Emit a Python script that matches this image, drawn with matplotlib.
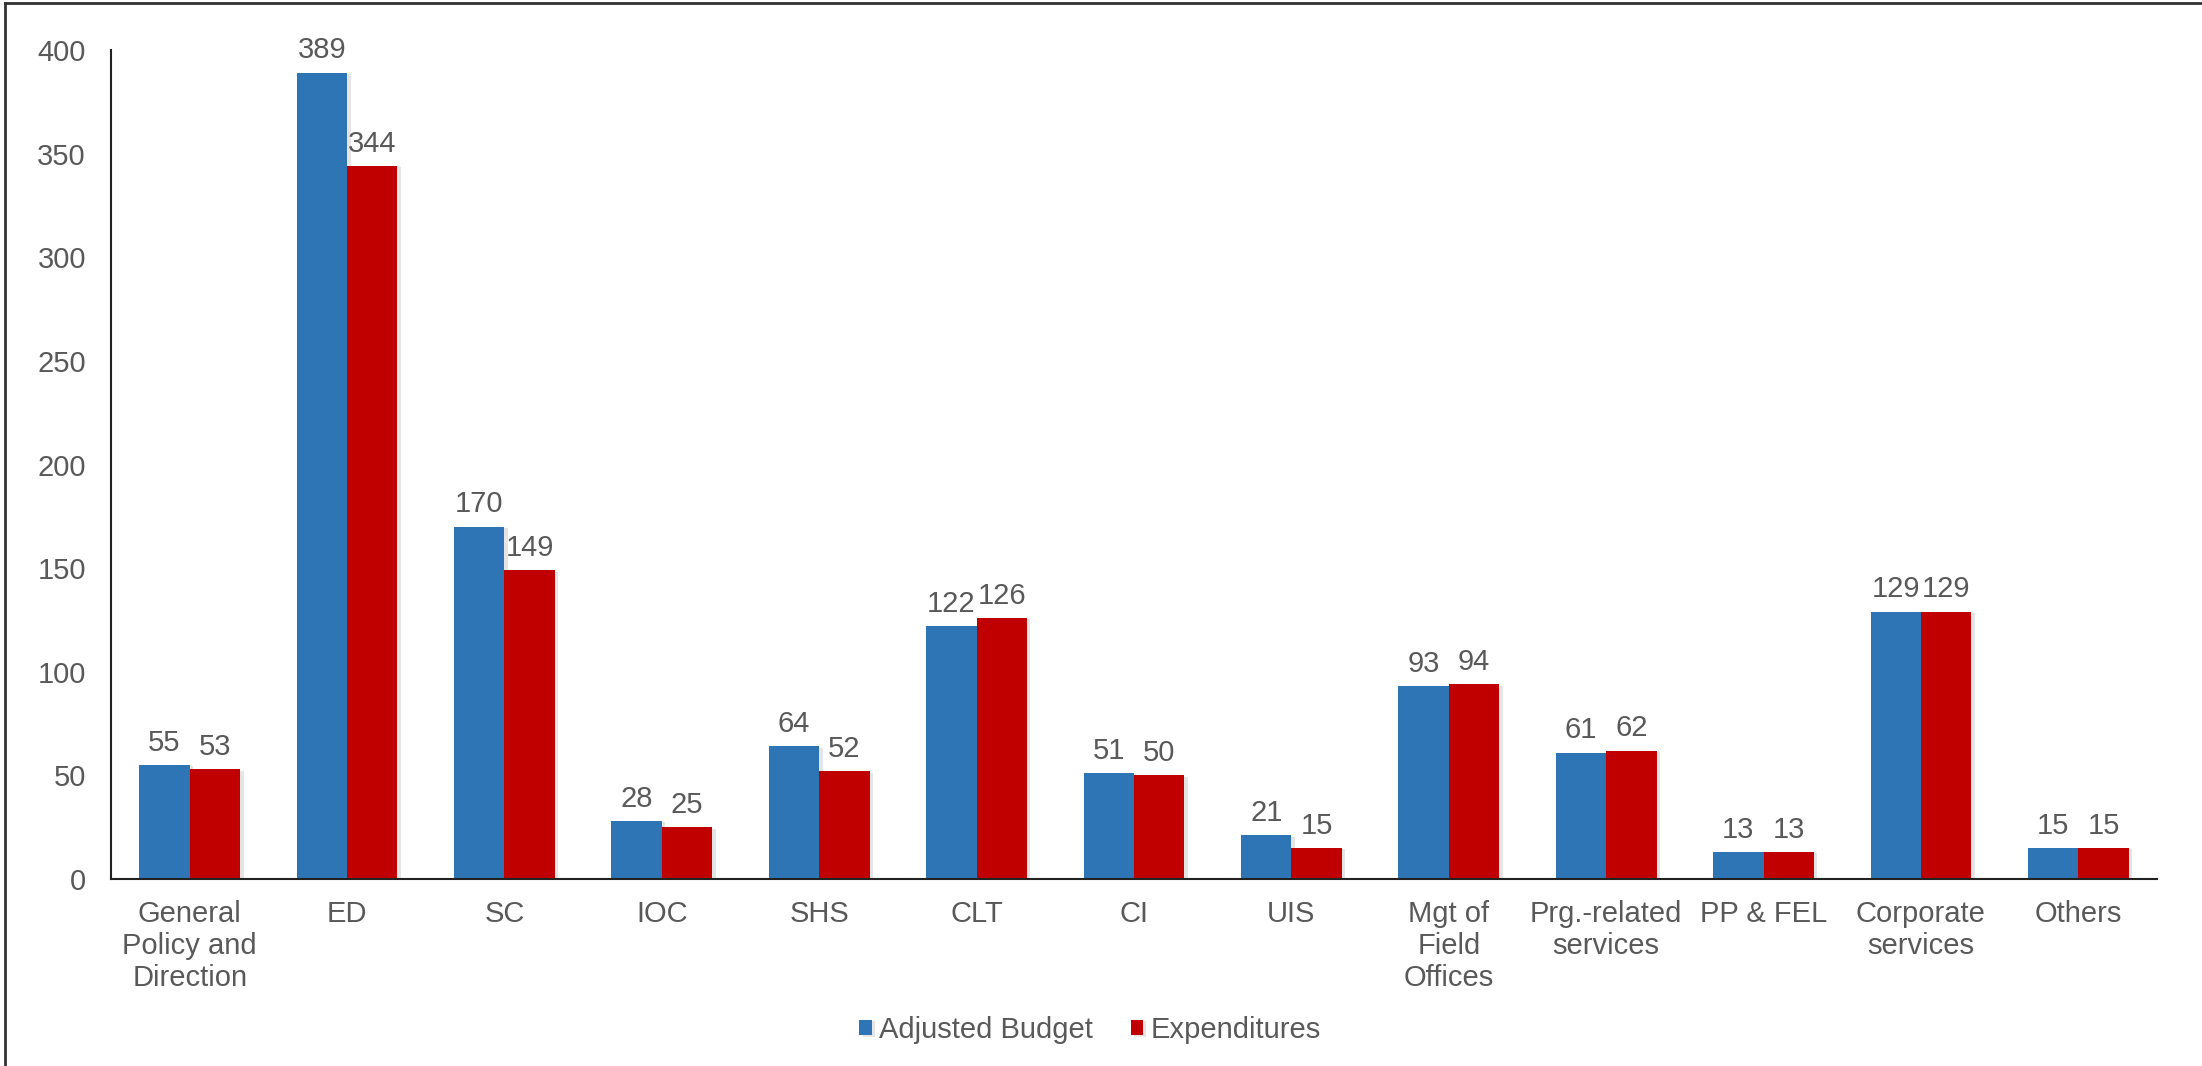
import matplotlib
matplotlib.use("Agg")
import matplotlib.pyplot as plt
import matplotlib.patheffects as pe
from matplotlib.lines import Line2D
import numpy as np

# Datos del grafico
categorias = ["General\nPolicy and\nDirection", "ED", "SC", "IOC", "SHS", "CLT", "CI", "UIS",
              "Mgt of\nField\nOffices", "Prg.-related\nservices", "PP & FEL",
              "Corporate\nservices", "Others"]
presupuesto = [55, 389, 170, 28, 64, 122, 51, 21, 93, 61, 13, 129, 15]
gastos = [53, 344, 149, 25, 52, 126, 50, 15, 94, 62, 13, 129, 15]
series = ["Adjusted Budget", "Expenditures"]
yticks = [0, 50, 100, 150, 200, 250, 300, 350, 400]

azul = "#2E75B6"
rojo = "#C00000"
gris = "#595959"
tam = 21

plt.rcParams["font.family"] = ["Liberation Sans", "DejaVu Sans"]

fig = plt.figure(figsize=(22.02, 10.66), dpi=100)
ax = fig.add_axes([111 / 2202, 1 - 879 / 1066, (2157 - 111) / 2202, (879 - 50) / 1066])

x = np.arange(len(categorias))
ancho = 0.32
sombra = [pe.SimplePatchShadow(offset=(2.5, -1), shadow_rgbFace="#000000", alpha=0.10), pe.Normal()]

b1 = ax.bar(x - ancho / 2, presupuesto, width=ancho, color=azul, label=series[0], path_effects=sombra)
b2 = ax.bar(x + ancho / 2, gastos, width=ancho, color=rojo, label=series[1], path_effects=sombra)

ax.bar_label(b1, padding=6, fontsize=tam, color=gris)
ax.bar_label(b2, padding=6, fontsize=tam, color=gris)

ax.set_xlim(-0.5, len(categorias) - 0.5)
ax.set_ylim(0, 400)
ax.set_yticks(yticks)
ax.set_xticks(x)
ax.set_xticklabels(categorias, fontsize=tam, color=gris, linespacing=1.18)
ax.tick_params(axis="y", length=0, pad=18, labelsize=tam, labelcolor=gris)
ax.tick_params(axis="x", length=0, pad=15)

for lado in ["top", "right"]:
    ax.spines[lado].set_visible(False)
ax.spines["left"].set_color("#222222")
ax.spines["bottom"].set_color("#222222")
ax.spines["left"].set_linewidth(1.5)
ax.spines["bottom"].set_linewidth(1.5)

leg = fig.legend(loc="center", bbox_to_anchor=(1090 / 2202, 1 - 1030 / 1066), ncol=2, frameon=False,
                 fontsize=tam, handlelength=0.42, handleheight=0.42, handletextpad=0.25,
                 columnspacing=1.3, labelcolor=gris)

# Borde del marco
fig.add_artist(Line2D([5 / 2202, 5 / 2202], [0, 1 - 3 / 1066], transform=fig.transFigure, color="#333333", lw=2))
fig.add_artist(Line2D([5 / 2202, 1], [1 - 3 / 1066, 1 - 3 / 1066], transform=fig.transFigure, color="#333333", lw=2))

fig.savefig("out.png", dpi=100, facecolor="white")
